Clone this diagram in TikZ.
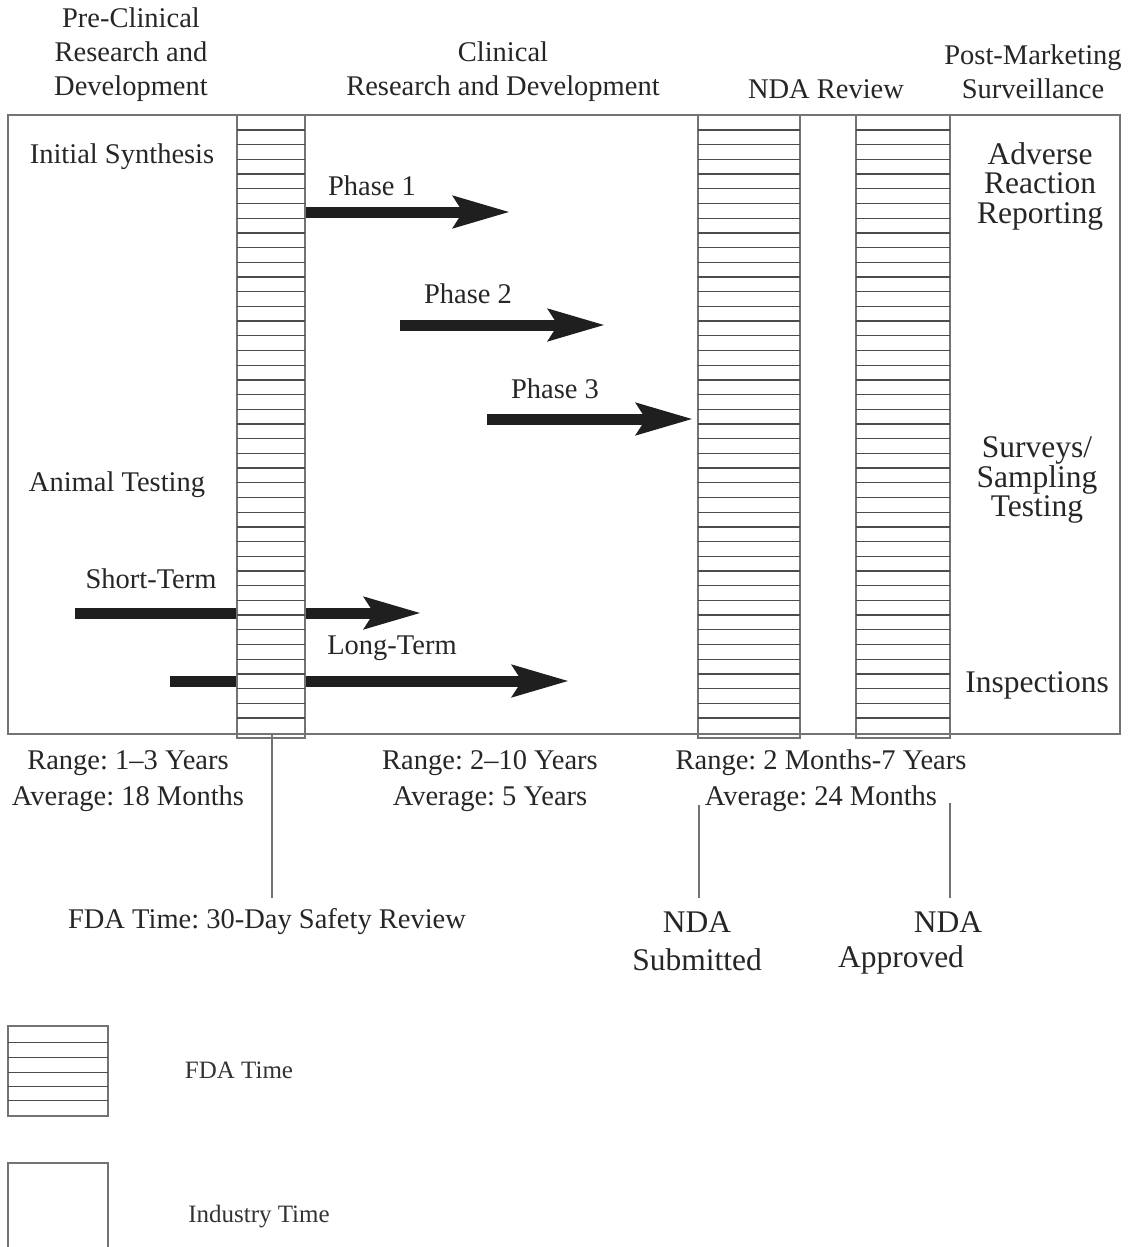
\documentclass[tikz,border=0pt]{standalone}
\usepackage{fontspec}
\setmainfont{Liberation Serif}
\frenchspacing
\usetikzlibrary{arrows.meta}
\begin{document}
\begin{tikzpicture}[x=1pt,y=-1pt,
  lbl/.style={font=\fontsize{28.5}{34}\selectfont, align=center, text=black!85, inner sep=0pt},
  rng/.style={font=\fontsize{28.5}{36}\selectfont, align=center, text=black!85, inner sep=0pt},
  side/.style={font=\fontsize{31.5}{29.5}\selectfont, align=center, text=black!85, inner sep=0pt},
  big/.style={font=\fontsize{31.5}{38}\selectfont, align=center, text=black!85, inner sep=0pt},
  leg/.style={font=\fontsize{25}{28}\selectfont, text=black!80, inner sep=0pt},
  frame/.style={draw=black!55, line width=1.8pt},
  colframe/.style={draw=black!55, line width=1.6pt, fill=white},
  hatch/.style={draw=black!70, line width=1.3pt},
  lead/.style={draw=black!55, line width=1.6pt},
  bigarrow/.style={draw=black!88, line width=11pt,
    -{Stealth[length=56pt,width=31pt,inset=9pt,fill=black!88]}}]
\useasboundingbox (0,0) rectangle (1127,1247);

% arrow end points
\coordinate (p1s) at (305,212);  \coordinate (p1e) at (510,212);
\coordinate (p2s) at (400,325);  \coordinate (p2e) at (605,325);
\coordinate (p3s) at (487,419);  \coordinate (p3e) at (693,419);
\coordinate (sts) at (75,613);   \coordinate (ste) at (421,613);
\coordinate (lts) at (170,681);  \coordinate (lte) at (569,681);

% arrows (drawn behind the FDA columns)
\draw[bigarrow] (p1s) -- (p1e);
\draw[bigarrow] (p2s) -- (p2e);
\draw[bigarrow] (p3s) -- (p3e);
\draw[bigarrow] (sts) -- (ste);
\draw[bigarrow] (lts) -- (lte);

% FDA time columns
\foreach \xa/\xb in {237/305, 698/800, 856/950}{
  \draw[colframe] (\xa,115) rectangle (\xb,738);
  \foreach \k in {0,...,40}
    \draw[hatch] (\xa,{130+\k*14.7}) -- (\xb,{130+\k*14.7});
}

% main frame
\draw[frame] (8,115) rectangle (1120,734);

% headers
\node[lbl] (hpre) at (131,55) {Pre-Clinical\\Research and\\Development};
\node[lbl] (hcli) at (503,72) {Clinical\\Research and Development};
\node[lbl] (hnda) at (826,89) {NDA Review};
\node[lbl] (hpost) at (1033,72) {Post-Marketing\\Surveillance};

% inside texts
\node[lbl] (tsyn) at (122,157) {Initial Synthesis};
\node[lbl] (tani) at (117,485) {Animal Testing};
\node[lbl] (tph1) at (372,186) {Phase 1};
\node[lbl] (tph2) at (468,294) {Phase 2};
\node[lbl] (tph3) at (555,389) {Phase 3};
\node[lbl] (tst) at (151,579) {Short-Term};
\node[lbl] (tlt) at (392,648) {Long-Term};
\node[side] (tadv) at (1040,186) {Adverse\\Reaction\\Reporting};
\node[side] (tsur) at (1037,480) {Surveys/\\Sampling\\Testing};
\node[side] (tins) at (1037,685) {Inspections};

% durations
\node[rng] (r1) at (128,781) {Range: 1--3 Years\\Average: 18 Months};
\node[rng] (r2) at (490,781) {Range: 2--10 Years\\Average: 5 Years};
\node[rng] (r3) at (821,781) {Range: 2 Months-7 Years\\Average: 24 Months};

% milestones
\node[lbl] (fda) at (267,922) {FDA Time: 30-Day Safety Review};
\node[big] (nsub) at (697,941) {NDA\\Submitted};
\node[big] (nappA) at (948,922) {NDA};
\node[big] (nappB) at (901,960) {Approved};

\coordinate (l1t) at (272,735); \coordinate (l1b) at (272,898);
\coordinate (l2t) at (699,805); \coordinate (l2b) at (699,898);
\coordinate (l3t) at (950,803); \coordinate (l3b) at (950,898);
\draw[lead] (l1t) -- (l1b);
\draw[lead] (l2t) -- (l2b);
\draw[lead] (l3t) -- (l3b);

% legend
\draw[colframe] (8,1026) rectangle (108,1116);
\foreach \yy in {1042.7,1057.7,1072.3,1086.7,1100.7}
  \draw[hatch] (8,\yy) -- (108,\yy);
\node[leg] (lfda) at (239,1070) {FDA Time};
\draw[frame] (8,1247) -- (8,1163) -- (108,1163) -- (108,1247);
\node[leg] (lind) at (259,1217) {Industry Time};
\end{tikzpicture}
\end{document}
